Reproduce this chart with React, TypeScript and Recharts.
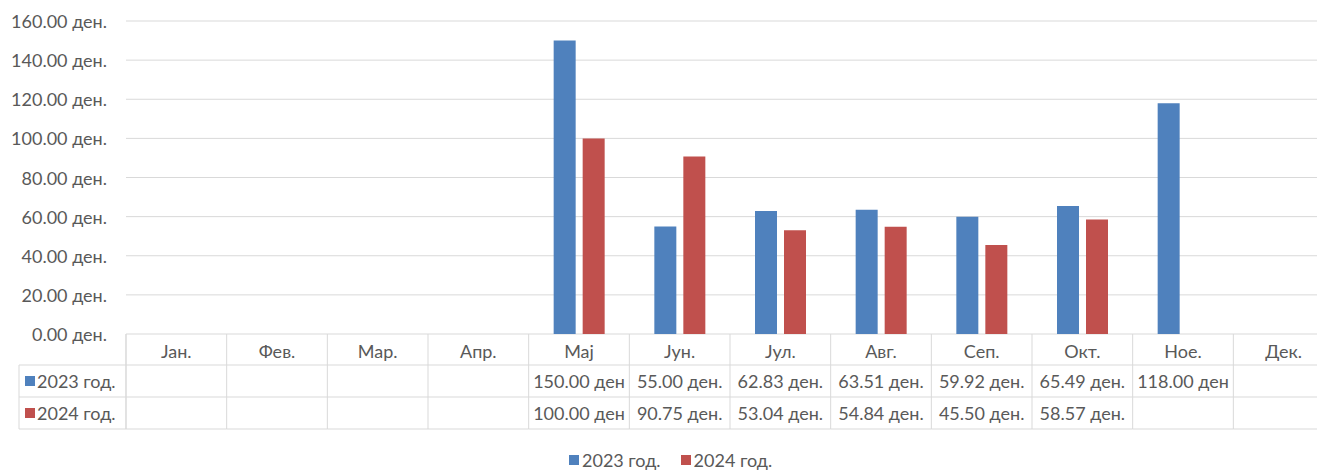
import { BarChart, Bar, XAxis, YAxis, CartesianGrid, Customized } from 'recharts'

const months = ['Јан.', 'Фев.', 'Мар.', 'Апр.', 'Мај', 'Јун.', 'Јул.', 'Авг.', 'Сеп.', 'Окт.', 'Ное.', 'Дек.']
const values2023 = [null, null, null, null, 150, 55, 62.83, 63.51, 59.92, 65.49, 118, null]
const values2024 = [null, null, null, null, 100, 90.75, 53.04, 54.84, 45.5, 58.57, null, null]
const yTicks = [0, 20, 40, 60, 80, 100, 120, 140, 160]
const seriesNames = ['2023 год.', '2024 год.']

const data = months.map((m, i) => ({ name: m, y2023: values2023[i], y2024: values2024[i] }))

const BLUE = '#4f81bd'
const RED = '#c0504d'
const TEXT = '#595959'
const LINE = '#d9d9d9'
const FONT = 'Lato, "Noto Sans", sans-serif'
const FS = 18

const CHART_W = 1334
const CHART_H = 470
const AXIS_W = 126
const PLOT_TOP = 21
const PLOT_BOTTOM = 334
const COL_W = (CHART_W - AXIS_W) / months.length
const ROW1 = 365
const ROW2 = 397
const ROW3 = 429
const TABLE_LEFT = 19

const fmt = (v: number | null) => {
  if (v == null) return ''
  return v >= 100 ? `${v.toFixed(2)} ден` : `${v.toFixed(2)} ден.`
}

function YTick(props: any) {
  const { y, payload } = props
  return (
    <text x={107} y={y} textAnchor="end" dominantBaseline="central" fill={TEXT} fontSize={FS} fontFamily={FONT}>
      {`${Number(payload.value).toFixed(2)} ден.`}
    </text>
  )
}

function TableTick(props: any) {
  const { x, payload } = props
  const i = months.indexOf(payload.value)
  const left = x - COL_W / 2
  const right = x + COL_W / 2
  const txt = { fill: TEXT, fontSize: FS, fontFamily: FONT, textAnchor: 'middle' as const, dominantBaseline: 'central' as const }
  return (
    <g>
      <line x1={left} x2={left} y1={PLOT_BOTTOM} y2={ROW3} stroke={LINE} />
      {i === months.length - 1 && <line x1={right} x2={right} y1={PLOT_BOTTOM} y2={ROW3} stroke={LINE} />}
      <line x1={left} x2={right} y1={ROW1} y2={ROW1} stroke={LINE} />
      <line x1={left} x2={right} y1={ROW2} y2={ROW2} stroke={LINE} />
      <line x1={left} x2={right} y1={ROW3} y2={ROW3} stroke={LINE} />
      <text x={x} y={(PLOT_BOTTOM + ROW1) / 2 + 1} {...txt}>{payload.value}</text>
      <text x={x} y={(ROW1 + ROW2) / 2} {...txt}>{fmt(values2023[i])}</text>
      <text x={x} y={(ROW2 + ROW3) / 2} {...txt}>{fmt(values2024[i])}</text>
    </g>
  )
}

function RowHeaders() {
  const rows = [
    { name: seriesNames[0], color: BLUE, top: ROW1, bottom: ROW2 },
    { name: seriesNames[1], color: RED, top: ROW2, bottom: ROW3 },
  ]
  return (
    <g>
      <line x1={TABLE_LEFT} x2={TABLE_LEFT} y1={ROW1} y2={ROW3} stroke={LINE} />
      <line x1={AXIS_W} x2={AXIS_W} y1={PLOT_BOTTOM} y2={ROW3} stroke={LINE} />
      {[ROW1, ROW2, ROW3].map((y) => (
        <line key={y} x1={TABLE_LEFT} x2={AXIS_W} y1={y} y2={y} stroke={LINE} />
      ))}
      {rows.map((r) => (
        <g key={r.name}>
          <rect x={25} y={(r.top + r.bottom) / 2 - 5} width={10} height={10} fill={r.color} />
          <text x={37} y={(r.top + r.bottom) / 2} dominantBaseline="central" fill={TEXT} fontSize={FS} fontFamily={FONT}>
            {r.name}
          </text>
        </g>
      ))}
    </g>
  )
}

export default function App() {
  return (
    <div style={{ position: 'absolute', left: 0, top: 0, width: 1317, height: 470, overflow: 'hidden', background: '#fff' }}>
      <BarChart
        width={CHART_W}
        height={CHART_H}
        data={data}
        margin={{ top: PLOT_TOP, right: 0, left: 0, bottom: 0 }}
        barSize={22}
        barGap={7}
      >
        <CartesianGrid vertical={false} stroke={LINE} />
        <XAxis
          dataKey="name"
          axisLine={false}
          tickLine={false}
          interval={0}
          height={CHART_H - PLOT_BOTTOM}
          tick={<TableTick />}
        />
        <YAxis
          width={AXIS_W}
          domain={[0, 160]}
          ticks={yTicks}
          axisLine={false}
          tickLine={false}
          tick={<YTick />}
        />
        <Bar dataKey="y2023" name={seriesNames[0]} fill={BLUE} isAnimationActive={false} />
        <Bar dataKey="y2024" name={seriesNames[1]} fill={RED} isAnimationActive={false} />
        <Customized component={<RowHeaders />} />
      </BarChart>
      <div
        style={{
          position: 'absolute',
          top: 449,
          left: 569,
          height: 22,
          display: 'flex',
          alignItems: 'center',
          fontFamily: FONT,
          fontSize: FS,
          lineHeight: '22px',
          color: TEXT,
        }}
      >
        <span style={{ width: 10, height: 10, background: BLUE, display: 'inline-block', marginRight: 3 }} />
        <span style={{ marginRight: 20 }}>{seriesNames[0]}</span>
        <span style={{ width: 10, height: 10, background: RED, display: 'inline-block', marginRight: 3 }} />
        <span>{seriesNames[1]}</span>
      </div>
    </div>
  )
}
